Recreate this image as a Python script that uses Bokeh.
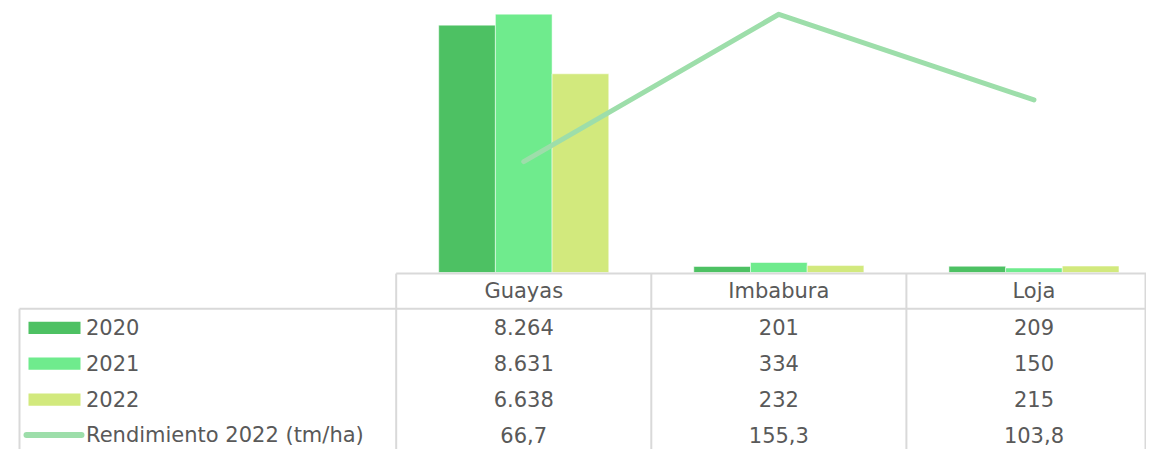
from bokeh.plotting import figure
from bokeh.models import Range1d
from bokeh.embed import file_html
from bokeh.resources import INLINE
from bokeh.core.properties import value

# ---------------- data ----------------
provincias = ["Guayas", "Imbabura", "Loja"]
anios = ["2020", "2021", "2022"]
v2020 = [8264, 201, 209]
v2021 = [8631, 334, 150]
v2022 = [6638, 232, 215]
rendimiento = [66.7, 155.3, 103.8]
serie_rend = "Rendimiento 2022 (tm/ha)"

colores = ["#4DC163", "#6FEB8D", "#D2E97D"]
color_rend = "#9DDEAA"
color_grid = "#D9D9D9"
color_txt = "#595959"
FONT = value("DejaVu Sans")
FSIZE = "21px"


def fmt_es(v):
    if float(v).is_integer():
        return f"{int(v):,}".replace(",", ".")
    return f"{v:.1f}".replace(".", ",")


# ---------------- figure ----------------
W, H = 1146, 449
p = figure(width=W, height=H, output_backend="svg", toolbar_location=None,
           min_border=0, x_axis_location=None, y_axis_location=None,
           x_range=Range1d(-1.5511, 2.9412), y_range=Range1d(-5913, 9087))
p.extra_y_ranges = {"rend": Range1d(-106.45, 163.59),
                    "tbl": Range1d(-4.4048, 8.0617)}
p.extra_x_ranges = {"px": Range1d(0, 1146)}
p.grid.visible = False
p.outline_line_color = None
p.background_fill_color = "white"
p.border_fill_color = "white"

n = len(provincias)
bw = 1 / 4.5
series = [v2020, v2021, v2022]
for j, (vals, col) in enumerate(zip(series, colores)):
    xs = [i + 0.5 + (j - 1) * bw for i in range(n)]
    p.vbar(x=xs, top=vals, bottom=0, width=bw, fill_color=col,
           line_color="white", line_alpha=0.5, line_width=1)

xc = [i + 0.5 for i in range(n)]
p.line(x=xc, y=rendimiento, y_range_name="rend", line_width=5,
       line_color=color_rend, line_cap="round", line_join="round")

# ---------------- data table ----------------
p.segment(x0=[0], x1=[3], y0=[0.48], y1=[0.48], y_range_name="tbl",
          line_color=color_grid, line_width=2)
p.segment(x0=[19], x1=[1146], y0=[-0.5], y1=[-0.5], x_range_name="px",
          y_range_name="tbl", line_color=color_grid, line_width=2)
p.segment(x0=[19], x1=[19], y0=[-0.5], y1=[-4.5], x_range_name="px",
          y_range_name="tbl", line_color=color_grid, line_width=2)
p.segment(x0=[0, 1, 2], x1=[0, 1, 2], y0=[0.48] * 3, y1=[-4.5] * 3,
          y_range_name="tbl", line_color=color_grid, line_width=2)
p.segment(x0=[1145], x1=[1145], y0=[0.48], y1=[-4.5], x_range_name="px",
          y_range_name="tbl", line_color=color_grid, line_width=2)

p.text(x=xc, y=[0] * n, text=provincias, y_range_name="tbl",
       text_font=FONT, text_font_size=FSIZE, text_color=color_txt,
       text_align="center", text_baseline="middle")

rows = series + [rendimiento]
for r, vals in enumerate(rows, start=1):
    p.text(x=xc, y=[-r] * n, text=[fmt_es(v) for v in vals], y_range_name="tbl",
           text_font=FONT, text_font_size=FSIZE, text_color=color_txt,
           text_align="center", text_baseline="middle")

labels = anios + [serie_rend]
p.text(x=[85.5] * 4, y=[-1, -2, -3, -4], text=labels, x_range_name="px",
       y_range_name="tbl", text_font=FONT, text_font_size=FSIZE,
       text_color=color_txt, text_align="left", text_baseline="middle")

p.rect(x=[54] * 3, y=[-1.03, -2.02, -3.02], width=52, height=0.34,
       x_range_name="px", y_range_name="tbl", fill_color=colores, line_color=None)
p.segment(x0=[26], x1=[81], y0=[-4.0], y1=[-4.0], x_range_name="px",
          y_range_name="tbl", line_color=color_rend, line_width=6, line_cap="round")

open("out.html", "w").write(file_html(p, INLINE))
